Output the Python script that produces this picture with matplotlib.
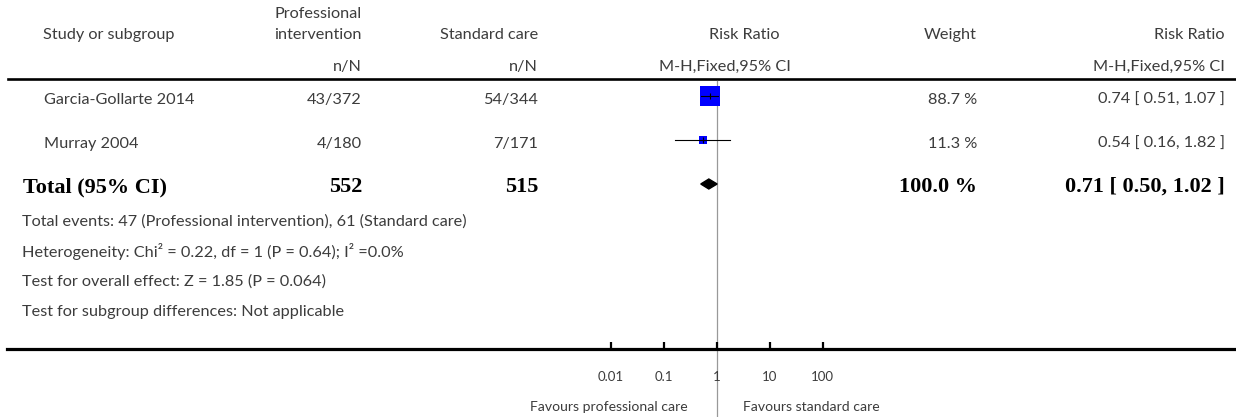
import numpy as np
import matplotlib
matplotlib.use("Agg")
import matplotlib.pyplot as plt
from matplotlib.patches import Polygon

# study data
studies = ["Garcia-Gollarte 2014", "Murray 2004"]
prof_events = ["43/372", "4/180"]
std_events = ["54/344", "7/171"]
rr = [0.74, 0.54]
ci_low = [0.51, 0.16]
ci_high = [1.07, 1.82]
weights = [88.7, 11.3]

total_prof = 552
total_std = 515
total_rr = 0.71
total_low = 0.50
total_high = 1.02

xticks = [0.01, 0.1, 1, 10, 100]
xtick_labels = ["0.01", "0.1", "1", "10", "100"]

footer = [
    "Total events: 47 (Professional intervention), 61 (Standard care)",
    "Heterogeneity: Chi\u00b2 = 0.22, df = 1 (P = 0.64); I\u00b2 =0.0%",
    "Test for overall effect: Z = 1.85 (P = 0.064)",
    "Test for subgroup differences: Not applicable",
]

W, H = 1236, 417
DPI = 100
TXT = "#3c3c3c"
FAM = ["Lato", "DejaVu Sans"]
SANS = dict(family=FAM, fontweight="normal", color=TXT, fontsize=11.7)
SMALL = dict(family=FAM, fontweight="normal", color=TXT, fontsize=10.1)
BOLD = dict(family=["Liberation Serif"], fontweight="bold", color="black", fontsize=16)

fig = plt.figure(figsize=(W / DPI, H / DPI), dpi=DPI)

# table layer in pixel coordinates
tab = fig.add_axes([0, 0, 1, 1])
tab.set_xlim(0, W)
tab.set_ylim(H, 0)
tab.axis("off")

# forest layer: log scale, 1 at px 716.7, 53 px per decade, bottom spine at px 349
x_one, per_dec = 716.7, 53.0
left_px, axis_px = 7, 349
first_row, row_gap = 96, 44
fx = fig.add_axes([left_px / W, 1 - axis_px / H, 1 - left_px / W, axis_px / H])
fx.set_xscale("log")
fx.set_xlim(10 ** ((left_px - x_one) / per_dec), 10 ** ((W - x_one) / per_dec))
fx.set_ylim((axis_px - first_row) / row_gap, (0 - first_row) / row_gap)
fx.patch.set_alpha(0)
for s in ["top", "left", "right"]:
    fx.spines[s].set_visible(False)
fx.spines["bottom"].set_linewidth(2.3)
fx.set_yticks([])
fx.xaxis.set_minor_locator(matplotlib.ticker.NullLocator())
fx.set_xticks(xticks)
fx.set_xticklabels(xtick_labels)
fx.tick_params(axis="x", direction="in", length=5, width=1.6, pad=15.5,
               labelsize=9.5, labelcolor=TXT)
for lab in fx.get_xticklabels():
    lab.set_family(FAM)

# line of no effect
top_row = (81 - first_row) / row_gap
bot_row = (H - first_row) / row_gap
fx.plot([1, 1], [top_row, bot_row], color="#999999", lw=0.9, clip_on=False, zorder=1)

# study squares and CIs
k = 20 * 0.72 / np.sqrt(max(weights))
for i in range(len(studies)):
    fx.plot([ci_low[i], ci_high[i]], [i, i], color="black", lw=0.8, zorder=3)
    fx.plot(rr[i], i, marker="s", ms=k * np.sqrt(weights[i]), color="#0000ff",
            mew=0, zorder=2)
    fx.plot(rr[i], i, marker="|", ms=4, color="black", mew=0.8, zorder=4)

# pooled diamond
tr = len(studies)
dh = 5 / row_gap
fx.add_patch(Polygon([[total_low, tr], [total_rr, tr - dh], [total_high, tr],
                      [total_rr, tr + dh]], closed=True, color="black", zorder=3))

# headers
tab.text(43, 35, "Study or subgroup", va="center", ha="left", **SANS)
tab.text(362, 14, "Professional", va="center", ha="right", **SANS)
tab.text(362, 35, "intervention", va="center", ha="right", **SANS)
tab.text(362, 67, "n/N", va="center", ha="right", **SANS)
tab.text(538, 35, "Standard care", va="center", ha="right", **SANS)
tab.text(538, 67, "n/N", va="center", ha="right", **SANS)
tab.text(744, 35, "Risk Ratio", va="center", ha="center", **SANS)
tab.text(725, 67, "M-H,Fixed,95% CI", va="center", ha="center", **SANS)
tab.text(977, 35, "Weight", va="center", ha="right", **SANS)
tab.text(1225, 35, "Risk Ratio", va="center", ha="right", **SANS)
tab.text(1225, 67, "M-H,Fixed,95% CI", va="center", ha="right", **SANS)
tab.plot([8, W], [79, 79], color="black", lw=1.9)

# study rows
for i, name in enumerate(studies):
    y = first_row + 4 + i * row_gap
    tab.text(44, y, name, va="center", ha="left", **SANS)
    tab.text(362, y, prof_events[i], va="center", ha="right", **SANS)
    tab.text(538, y, std_events[i], va="center", ha="right", **SANS)
    tab.text(977, y, "%.1f %%" % weights[i], va="center", ha="right", **SANS)
    tab.text(1225, y, "%.2f [ %.2f, %.2f ]" % (rr[i], ci_low[i], ci_high[i]),
             va="center", ha="right", **SANS)

# total row
yt = first_row + 3 + tr * row_gap
tab.text(23, yt, "Total (95% CI)", va="center", ha="left", **BOLD)
tab.text(362, yt, str(total_prof), va="center", ha="right", **BOLD)
tab.text(538, yt, str(total_std), va="center", ha="right", **BOLD)
tab.text(977, yt, "%.1f %%" % sum(weights), va="center", ha="right", **BOLD)
tab.text(1225, yt, "%.2f [ %.2f, %.2f ]" % (total_rr, total_low, total_high),
         va="center", ha="right", **BOLD)

for j, line in enumerate(footer):
    tab.text(22, 222 + j * 30, line, va="center", ha="left", **SANS)

tab.text(688, 407, "Favours professional care", va="center", ha="right", **SMALL)
tab.text(743, 407, "Favours standard care", va="center", ha="left", **SMALL)

fig.savefig("out.png", dpi=DPI)
